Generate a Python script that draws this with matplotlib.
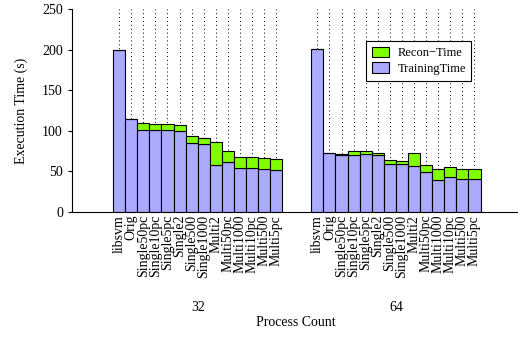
import numpy as np
import matplotlib
matplotlib.use("Agg")
import matplotlib.pyplot as plt
from matplotlib.patches import Patch

plt.rcParams["font.family"] = ["Liberation Serif", "DejaVu Serif"]
plt.rcParams["font.size"] = 10

# Bar categories (same order in both process-count groups)
VARIANTS = ["libsvm", "Orig", "Single50pc", "Single10pc", "Single5pc", "Single2",
            "Single500", "Single1000", "Multi2", "Multi50pc", "Multi1000",
            "Multi10pc", "Multi500", "Multi5pc"]
GROUPS = ["32", "64"]

# Training time (s) per variant
TRAIN_32 = [200, 114, 101.5, 101.5, 101.5, 99.8, 85, 84.2, 58.4, 61.2, 54.2, 54.2, 53, 52.2]
TRAIN_64 = [201, 73, 69.8, 70.7, 71.1, 69.8, 59.6, 59.1, 57.1, 49.8, 39.9, 42.7, 41.1, 41.1]

# Reconstruction time (s) stacked on top
RECON_32 = [0, 0, 8.5, 7.3, 7.3, 7.8, 8.2, 7.4, 27.8, 13.9, 14.0, 14.0, 14.0, 13.5]
RECON_64 = [0, 0, 2.1, 4.1, 3.7, 3.3, 4.9, 4.2, 16.0, 8.6, 13.5, 12.7, 11.9, 11.9]

BLUE = "#aaaaff"
GREEN = "#80ff00"

fig = plt.figure(figsize=(5.18, 3.37), dpi=100)
ax = fig.add_axes([72 / 518, 125 / 337, 446 / 518, 203 / 337])

n = len(VARIANTS)
offsets = [0.0, 16.4]
train_sets = [TRAIN_32, TRAIN_64]
recon_sets = [RECON_32, RECON_64]

positions, labels = [], []
for off, tr, rc, grp in zip(offsets, train_sets, recon_sets, GROUPS):
    x = off + np.arange(n)
    ax.bar(x, tr, width=1.0, color=BLUE, edgecolor="black", linewidth=0.8, zorder=2)
    ax.bar(x, rc, width=1.0, bottom=tr, color=GREEN, edgecolor="black",
           linewidth=0.8, zorder=2)
    positions.extend(x)
    labels.extend(VARIANTS)
    # group label under the tick labels
    ax.text(off + (n - 1) / 2, -0.47, grp, transform=ax.get_xaxis_transform(),
            ha="center", va="center", fontsize=10)

# dotted guide lines at each bar
for p in positions:
    ax.axvline(p, color="black", linestyle=(0, (1, 3)), linewidth=0.7, zorder=1)

ax.set_xticks(positions)
ax.set_xticklabels(labels, rotation=90, fontsize=10)
ax.tick_params(axis="x", length=0, pad=2)
ax.tick_params(axis="y", direction="out", length=3, labelsize=10)

ax.set_xlim(-3.9, 33.0)
ax.set_ylim(0, 250)
ax.set_yticks([0, 50, 100, 150, 200, 250])

for s in ["top", "right"]:
    ax.spines[s].set_visible(False)

ax.set_ylabel("Execution Time (s)", fontsize=10, labelpad=10)
fig.text(296 / 518, 1 - 322 / 337, "Process Count", ha="center", va="center",
         fontsize=10)

handles = [Patch(facecolor=GREEN, edgecolor="black", linewidth=0.8, label="Recon\u2212Time"),
           Patch(facecolor=BLUE, edgecolor="black", linewidth=0.8, label="TrainingTime")]
leg = ax.legend(handles=handles, loc="upper left",
                bbox_to_anchor=((366 - 72) / 446, (212 - 41) / 203),
                borderaxespad=0, frameon=True, fancybox=False, edgecolor="black",
                framealpha=1, fontsize=9, handlelength=1.35, handleheight=0.95,
                borderpad=0.45, labelspacing=0.25, handletextpad=0.7)
leg.get_frame().set_linewidth(0.8)

fig.savefig("out.png", dpi=100)
